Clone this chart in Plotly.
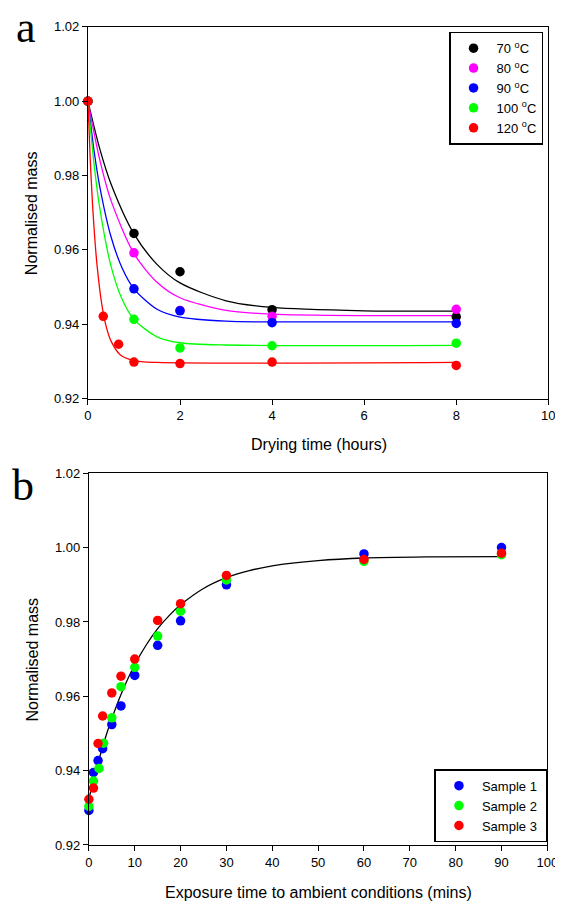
import plotly.graph_objects as go

W, H = 563, 903

# ---------------- Panel a data ----------------
temps_a = ["70 <sup>o</sup>C", "80 <sup>o</sup>C", "90 <sup>o</sup>C", "100 <sup>o</sup>C", "120 <sup>o</sup>C"]
colors_a = ["#000000", "#FF00FF", "#0000FF", "#00FF00", "#FF0000"]

t_70 = [0, 1, 2, 4, 8]
m_70 = [1.000, 0.9644, 0.9541, 0.9439, 0.9420]
t_80 = [0, 1, 2, 4, 8]
m_80 = [1.000, 0.9592, 0.9437, 0.9421, 0.9440]
t_90 = [0, 1, 2, 4, 8]
m_90 = [1.000, 0.9495, 0.9436, 0.9404, 0.9402]
t_100 = [0, 1, 2, 4, 8]
m_100 = [1.000, 0.9413, 0.9336, 0.9342, 0.9349]
t_120 = [0, 0.333, 0.667, 1, 2, 4, 8]
m_120 = [1.000, 0.9421, 0.9346, 0.9298, 0.9294, 0.9298, 0.9289]

# fitted curves
fit_t_70 = [0, 0.25, 0.5, 1, 1.5, 2, 3, 4, 6, 8]
fit_m_70 = [1.000, 0.9875, 0.9778, 0.9643, 0.9561, 0.9511, 0.9463, 0.9445, 0.9436, 0.9435]
fit_t_80 = [0, 0.25, 0.5, 1, 1.5, 2, 3, 4, 6, 8]
fit_m_80 = [1.000, 0.9846, 0.9733, 0.9590, 0.9513, 0.9471, 0.9437, 0.9427, 0.9423, 0.9423]
fit_t_90 = [0, 0.125, 0.25, 0.5, 0.75, 1, 1.5, 2, 3, 4, 8]
fit_m_90 = [1.000, 0.9874, 0.9775, 0.9636, 0.9549, 0.9495, 0.9440, 0.9419, 0.9408, 0.9406, 0.9406]
fit_t_100 = [0, 0.125, 0.25, 0.5, 0.75, 1, 1.5, 2, 3, 8]
fit_m_100 = [1.000, 0.9840, 0.9718, 0.9557, 0.9465, 0.9413, 0.9366, 0.9350, 0.9344, 0.9343]
fit_t_120 = [0, 0.05, 0.1, 0.15, 0.2, 0.3, 0.4, 0.5, 0.7, 1.0, 1.5, 8]
fit_m_120 = [1.000, 0.9844, 0.9723, 0.9629, 0.9556, 0.9454, 0.9392, 0.9355, 0.9318, 0.9302, 0.9297, 0.9297]

# ---------------- Panel b data ----------------
samples_b = ["Sample 1 ", "Sample 2 ", "Sample 3 "]
colors_b = ["#0000FF", "#00FF00", "#FF0000"]
t_b = [0, 1, 2, 3, 5, 7, 10, 15, 20, 30, 60, 90]
m_s1 = [0.9293, 0.9395, 0.9427, 0.9459, 0.9524, 0.9574, 0.9656, 0.9737, 0.9803, 0.9900, 0.9983, 1.0000]
m_s2 = [0.9304, 0.9372, 0.9406, 0.9474, 0.9542, 0.9626, 0.9678, 0.9762, 0.9829, 0.9913, 0.9963, 0.9981]
m_s3 = [0.9323, 0.9353, 0.9473, 0.9547, 0.9609, 0.9654, 0.9700, 0.9804, 0.9849, 0.9925, 0.9968, 0.9985]
t_b_s2 = [0, 1, 2.2, 3.2, 5, 7, 10, 15, 20, 30, 60, 90]

fit_t_b = [0, 1, 2, 3, 4, 5, 7, 10, 12.5, 15, 17.5, 20, 25, 30, 35, 40, 50, 60, 75, 90]
fit_m_b = [0.9324, 0.9374, 0.9421, 0.9464, 0.9504, 0.9540, 0.9605, 0.9685, 0.9738, 0.9782,
           0.9817, 0.9846, 0.9890, 0.9919, 0.9938, 0.9951, 0.9965, 0.9972, 0.9975, 0.9976]

xticks_a = [0, 2, 4, 6, 8, 10]
xticks_b = [0, 10, 20, 30, 40, 50, 60, 70, 80, 90, 100]
yticks = [0.92, 0.94, 0.96, 0.98, 1.00, 1.02]

FONT = "Liberation Sans, Arial, sans-serif"

fig = go.Figure()

# Panel a fit lines
for ft, fm, c in zip([fit_t_70, fit_t_80, fit_t_90, fit_t_100, fit_t_120],
                     [fit_m_70, fit_m_80, fit_m_90, fit_m_100, fit_m_120], colors_a):
    fig.add_trace(go.Scatter(x=ft, y=fm, mode="lines", line=dict(color=c, width=1.3, shape="spline", smoothing=0.8),
                             showlegend=False, hoverinfo="skip", xaxis="x", yaxis="y"))
# Panel a points
for t, m, c, name in zip([t_70, t_80, t_90, t_100, t_120], [m_70, m_80, m_90, m_100, m_120], colors_a, temps_a):
    fig.add_trace(go.Scatter(x=t, y=m, mode="markers", name=name,
                             marker=dict(color=c, size=9.5, line=dict(width=0)),
                             cliponaxis=False, xaxis="x", yaxis="y", legend="legend"))

# Panel b fit line
fig.add_trace(go.Scatter(x=fit_t_b, y=fit_m_b, mode="lines", line=dict(color="black", width=1.3, shape="spline", smoothing=0.8),
                         showlegend=False, hoverinfo="skip", xaxis="x2", yaxis="y2"))
for t, m, c, name in zip([t_b, t_b_s2, t_b], [m_s1, m_s2, m_s3], colors_b, samples_b):
    fig.add_trace(go.Scatter(x=t, y=m, mode="markers", name=name,
                             marker=dict(color=c, size=9.5, line=dict(width=0)),
                             cliponaxis=False, xaxis="x2", yaxis="y2", legend="legend2"))

def px_x(p):
    return p / W

def px_y(p):
    return 1 - p / H

axis_common = dict(showline=True, mirror=True, linecolor="black", linewidth=1.2,
                   ticks="outside", ticklen=5, tickwidth=1.2, tickcolor="black",
                   showgrid=False, zeroline=False, ticklabeloverflow="allow",
                   tickfont=dict(family=FONT, size=13, color="black"))

fig.update_layout(
    width=W, height=H,
    margin=dict(l=0, r=0, t=0, b=0),
    paper_bgcolor="white", plot_bgcolor="white",
    xaxis=dict(domain=[px_x(78), px_x(551)], range=[0, 10], tickvals=xticks_a, anchor="y", **axis_common),
    yaxis=dict(domain=[px_y(390), px_y(12)], range=[0.92, 1.02], tickvals=yticks, tickformat=".2f", anchor="x", **axis_common),
    xaxis2=dict(domain=[px_x(79), px_x(550)], range=[0, 100], tickvals=xticks_b, anchor="y2", **axis_common),
    yaxis2=dict(domain=[px_y(844), px_y(466)], range=[0.92, 1.02], tickvals=yticks, tickformat=".2f", anchor="x2", **axis_common),
    legend=dict(x=px_x(449), y=px_y(17), xanchor="left", yanchor="top",
                bgcolor="white", bordercolor="black", borderwidth=1.5,
                font=dict(family=FONT, size=13, color="black"), itemwidth=36),
    legend2=dict(x=px_x(434), y=px_y(767), xanchor="left", yanchor="top",
                 bgcolor="white", bordercolor="black", borderwidth=1.5,
                 font=dict(family=FONT, size=13, color="black"), itemwidth=36),
    showlegend=True,
)

ann = []
ann.append(dict(text="a", x=px_x(2), y=px_y(-14), xref="paper", yref="paper", xanchor="left", yanchor="top",
                showarrow=False, font=dict(family="Liberation Serif, Times New Roman, serif", size=44, color="black")))
ann.append(dict(text="b", x=px_x(-2), y=px_y(452), xref="paper", yref="paper", xanchor="left", yanchor="top",
                showarrow=False, font=dict(family="Liberation Serif, Times New Roman, serif", size=44, color="black")))
ann.append(dict(text="Drying time (hours)", x=px_x(315), y=px_y(437), xref="paper", yref="paper",
                xanchor="center", yanchor="middle", showarrow=False, font=dict(family=FONT, size=16, color="black")))
ann.append(dict(text="Exposure time to ambient conditions (mins)", x=px_x(315), y=px_y(892), xref="paper", yref="paper",
                xanchor="center", yanchor="middle", showarrow=False, font=dict(family=FONT, size=16, color="black")))
ann.append(dict(text="Normalised mass", x=px_x(20), y=px_y(201), xref="paper", yref="paper", textangle=-90,
                xanchor="center", yanchor="middle", showarrow=False, font=dict(family=FONT, size=16, color="black")))
ann.append(dict(text="Normalised mass", x=px_x(21), y=px_y(655), xref="paper", yref="paper", textangle=-90,
                xanchor="center", yanchor="middle", showarrow=False, font=dict(family=FONT, size=16, color="black")))
fig.update_layout(annotations=ann)

fig.write_html("out.html")
